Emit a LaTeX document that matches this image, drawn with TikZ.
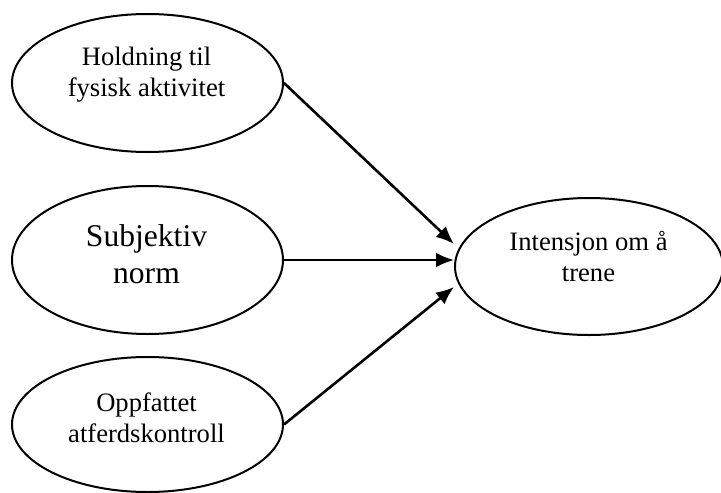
\documentclass[tikz,border=0pt]{standalone}
\usepackage{fontspec}
\setmainfont{Liberation Serif}
\usetikzlibrary{shapes.geometric,arrows.meta,calc}
\tikzset{
  oval/.style={draw=black, line width=2pt, ellipse, inner sep=0pt},
  lbl/.style={align=center, anchor=base, inner sep=0pt, font=\fontsize{26.6}{31}\selectfont},
  biglbl/.style={align=center, anchor=base, inner sep=0pt, font=\fontsize{31.6}{37}\selectfont},
  conn/.style={draw=black, line width=2.6pt, -{Latex[length=18pt,width=15pt]}}
}
\begin{document}
\begin{tikzpicture}[x=1pt,y=-1pt]
\useasboundingbox (0,0) rectangle (721,493);
\clip (0,0) rectangle (721,493);
\node[oval, minimum width=271pt, minimum height=138pt] (h) at (147.5,83) {};
\node[oval, minimum width=271pt, minimum height=148pt] (s) at (147.5,260) {};
\node[oval, minimum width=271pt, minimum height=135pt] (o) at (147.5,424.5) {};
\node[oval, minimum width=268pt, minimum height=137pt] (i) at (589,266.5) {};
\node[lbl] (ht) at (146.5,96.7) {Holdning til\\fysisk aktivitet};
\node[biglbl] (st) at (146.5,283) {Subjektiv\\norm};
\node[lbl] (ot) at (146.5,442) {Oppfattet\\atferdskontroll};
\node[lbl] (it) at (588.5,281.7) {Intensjon om å\\trene};
\coordinate (t1) at ($(i.west)+(0,-22.5)$);
\coordinate (t2) at ($(i.west)+(0,-6.5)$);
\coordinate (t3) at ($(i.west)+(0,20.5)$);
\draw[conn] (h.east) -- (t1);
\draw[conn] (s.east) -- (t2);
\draw[conn] (o.east) -- (t3);
\end{tikzpicture}
\end{document}
